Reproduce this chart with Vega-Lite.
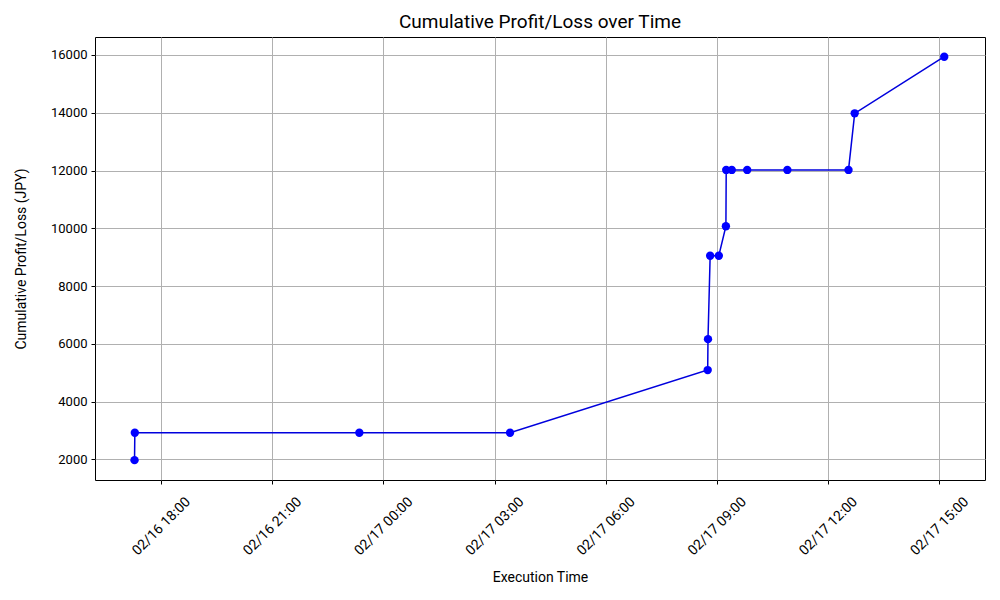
{
  "$schema": "https://vega.github.io/schema/vega-lite/v6.json",
  "autosize": "none",
  "width": 890,
  "height": 443,
  "padding": {"left": 95, "top": 37, "right": 15, "bottom": 120},
  "background": "white",
  "config": {
    "font": "Roboto",
    "view": {"stroke": "black", "strokeWidth": 1}
  },
  "title": {
    "text": "Cumulative Profit/Loss over Time",
    "fontSize": 19,
    "fontWeight": "normal",
    "color": "black",
    "offset": 5,
    "anchor": "middle"
  },
  "data": {
    "values": [
      {"time": "2024-02-16T17:17:00", "pnl": 1970},
      {"time": "2024-02-16T17:17:30", "pnl": 2921},
      {"time": "2024-02-16T23:21:00", "pnl": 2921},
      {"time": "2024-02-17T03:25:00", "pnl": 2921},
      {"time": "2024-02-17T08:45:00", "pnl": 5090},
      {"time": "2024-02-17T08:45:30", "pnl": 6160},
      {"time": "2024-02-17T08:49:00", "pnl": 9050},
      {"time": "2024-02-17T09:03:00", "pnl": 9050},
      {"time": "2024-02-17T09:14:30", "pnl": 10070},
      {"time": "2024-02-17T09:15:00", "pnl": 12020},
      {"time": "2024-02-17T09:24:00", "pnl": 12020},
      {"time": "2024-02-17T09:49:00", "pnl": 12020},
      {"time": "2024-02-17T10:54:00", "pnl": 12020},
      {"time": "2024-02-17T12:33:00", "pnl": 12020},
      {"time": "2024-02-17T12:43:00", "pnl": 13980},
      {"time": "2024-02-17T15:08:00", "pnl": 15940}
    ]
  },
  "encoding": {
    "x": {
      "field": "time",
      "type": "temporal",
      "scale": {"domain": [{"year": 2024, "month": 2, "date": 16, "hours": 16, "minutes": 13}, {"year": 2024, "month": 2, "date": 17, "hours": 16, "minutes": 14}]},
      "axis": {
        "title": "Execution Time",
        "titleFontSize": 14,
        "titleFontWeight": "normal",
        "titleColor": "black",
        "titlePadding": 13,
        "format": "%m/%d %H:%M",
        "values": [
          {"year": 2024, "month": 2, "date": 16, "hours": 18},
          {"year": 2024, "month": 2, "date": 16, "hours": 21},
          {"year": 2024, "month": 2, "date": 17, "hours": 0},
          {"year": 2024, "month": 2, "date": 17, "hours": 3},
          {"year": 2024, "month": 2, "date": 17, "hours": 6},
          {"year": 2024, "month": 2, "date": 17, "hours": 9},
          {"year": 2024, "month": 2, "date": 17, "hours": 12},
          {"year": 2024, "month": 2, "date": 17, "hours": 15}
        ],
        "labelAngle": -45,
        "labelAlign": "center",
        "labelBaseline": "middle",
        "labelFontSize": 14,
        "labelColor": "black",
        "labelPadding": 42,
        "tickColor": "black",
        "tickSize": 4,
        "domain": false,
        "grid": true,
        "gridColor": "#b0b0b0",
        "gridWidth": 1,
        "labelFlush": false,
        "labelOverlap": false
      }
    },
    "y": {
      "field": "pnl",
      "type": "quantitative",
      "scale": {"domain": [1283, 16623], "nice": false, "zero": false},
      "axis": {
        "title": "Cumulative Profit/Loss (JPY)",
        "titleFontSize": 14,
        "titleFontWeight": "normal",
        "titleColor": "black",
        "titlePadding": 22,
        "values": [2000, 4000, 6000, 8000, 10000, 12000, 14000, 16000],
        "format": "d",
        "labelFontSize": 13,
        "labelColor": "black",
        "labelPadding": 4,
        "tickColor": "black",
        "tickSize": 4,
        "domain": false,
        "grid": true,
        "gridColor": "#b0b0b0",
        "gridWidth": 1
      }
    }
  },
  "layer": [
    {"mark": {"type": "line", "color": "#0000dd", "strokeWidth": 1.5}},
    {"mark": {"type": "point", "filled": true, "opacity": 1, "color": "#0000ff", "size": 70}}
  ]
}
